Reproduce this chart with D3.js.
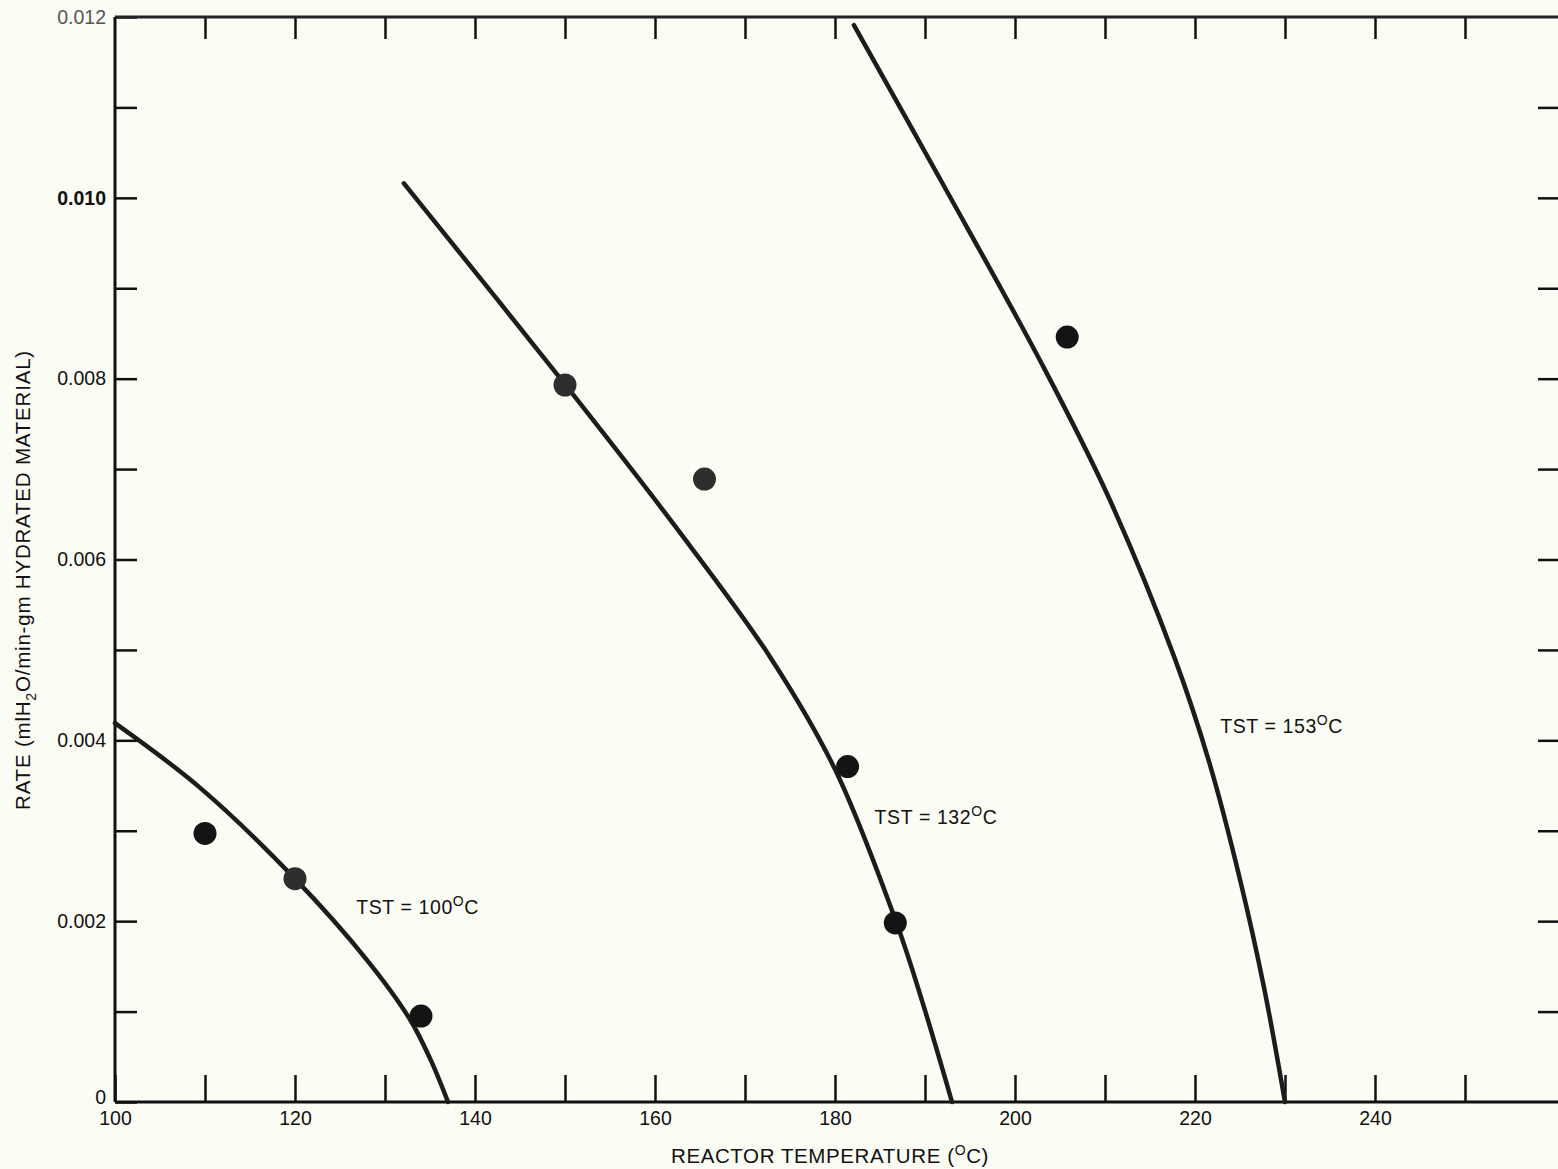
<!DOCTYPE html>
<html>
<head>
<meta charset="utf-8">
<script src="https://cdn.jsdelivr.net/npm/d3@7"></script>
<style>
  html, body { margin: 0; padding: 0; background: #fbfcf4; }
  svg { display: block; font-family: "Liberation Sans", Arial, sans-serif; }
  .axis path { display: none; }
  .axis line { stroke: #111; stroke-width: 2.5; }
</style>
</head>
<body>
<svg id="chart"></svg>
<script>
const W = 1558;
const H = 1169;

// 측정점 (반응기 온도, rate)
const pointsX = [110, 120, 134, 150, 165.5, 181.4, 186.7, 205.8];
const pointsY = [0.00297, 0.00247, 0.00095, 0.00793, 0.00689, 0.00371, 0.00198, 0.00846];

// 곡선
const tst100X = [100, 109.4, 119.8, 128.0, 132.8, 135.1, 137.0];
const tst100Y = [0.00419, 0.00348, 0.00249, 0.00157, 0.00091, 0.00046, 0];
const tst132X = [132.1, 149.9, 162.3, 172.8, 180.0, 186.8, 189.7, 193.0];
const tst132Y = [0.01016, 0.00795, 0.00636, 0.00492, 0.00368, 0.00199, 0.00111, 0];
const tst153X = [182.1, 192.0, 203.0, 210.3, 217.7, 221.6, 225.1, 227.7, 230.0];
const tst153Y = [0.01191, 0.01015, 0.00816, 0.00671, 0.00492, 0.00375, 0.00242, 0.00125, 0];

const curveNames = ["100", "132", "153"];
const labelX = [126.8, 184.4, 222.8];
const labelY = [0.00208, 0.00308, 0.00408];

const xTicks = d3.range(100, 260, 10);
const yTicks = d3.range(0, 0.0121, 0.001);

const x = d3.scaleLinear().domain([100, 260]).range([115, 1555]);
const y = d3.scaleLinear().domain([0, 0.012]).range([1102, 17]);

const svg = d3.select("#chart").attr("width", W).attr("height", H);
svg.append("rect").attr("width", W).attr("height", H).attr("fill", "#fbfcf4");

// 눈금
const fmtY = d => {
  if (Math.abs(d) < 1e-9) return "0";
  const k = Math.round(d * 1000);
  return k % 2 === 0 ? d3.format(".3f")(d) : "";
};

svg.append("g").attr("class", "axis")
  .attr("transform", `translate(0,${y(0)})`)
  .call(d3.axisBottom(x).tickValues(xTicks).tickSize(-27).tickPadding(6)
    .tickFormat(d => d % 20 === 0 ? d : ""))
  .selectAll("text")
  .attr("font-size", 19.5)
  .attr("fill", "#111")
  .attr("dy", "0.85em");

svg.append("g").attr("class", "axis")
  .attr("transform", `translate(0,${y(0.012)})`)
  .call(d3.axisTop(x).tickValues(xTicks.slice(1)).tickSize(-22).tickFormat(""));

svg.append("g").attr("class", "axis")
  .attr("transform", `translate(${x(100)},0)`)
  .call(d3.axisLeft(y).tickValues(yTicks).tickSize(-22).tickPadding(9).tickFormat(fmtY))
  .selectAll("text")
  .attr("font-size", 19.5)
  .attr("y", d => Math.abs(d) < 1e-9 ? -5 : 0)
  .attr("font-weight", d => Math.abs(d - 0.010) < 1e-9 ? "bold" : null)
  .attr("fill", d => Math.abs(d - 0.012) < 1e-9 ? "#555" : "#111");

svg.append("g").attr("class", "axis")
  .attr("transform", `translate(1558,0)`)
  .call(d3.axisRight(y).tickValues(yTicks.slice(1, 12)).tickSize(-20).tickFormat(""));

// 축 테두리
svg.append("line").attr("x1", x(100)).attr("x2", W).attr("y1", y(0)).attr("y2", y(0))
  .attr("stroke", "#111").attr("stroke-width", 3);
svg.append("line").attr("x1", x(100)).attr("x2", W).attr("y1", y(0.012)).attr("y2", y(0.012))
  .attr("stroke", "#222").attr("stroke-width", 3);
svg.append("line").attr("x1", x(100)).attr("x2", x(100)).attr("y1", y(0.012)).attr("y2", y(0))
  .attr("stroke", "#111").attr("stroke-width", 3);

// 곡선
const line = d3.line()
  .x(d => x(d[0]))
  .y(d => y(d[1]))
  .curve(d3.curveCatmullRom.alpha(0.5));

const curves = [
  d3.zip(tst100X, tst100Y),
  d3.zip(tst132X, tst132Y),
  d3.zip(tst153X, tst153Y)
];

svg.selectAll("path.curve")
  .data(curves)
  .enter()
  .append("path")
  .attr("class", "curve")
  .attr("d", line)
  .attr("fill", "none")
  .attr("stroke", "#1c1c1c")
  .attr("stroke-width", 4.5)
  .attr("stroke-linecap", "round");

// 데이터 점
svg.selectAll("circle.pt")
  .data(d3.zip(pointsX, pointsY))
  .enter()
  .append("circle")
  .attr("class", "pt")
  .attr("cx", d => x(d[0]))
  .attr("cy", d => y(d[1]))
  .attr("r", 11.5)
  .attr("fill", (d, i) => (i === 1 || i === 3 || i === 4) ? "#2e2e2e" : "#141414");

// TST 라벨
curveNames.forEach((name, i) => {
  const t = svg.append("text")
    .attr("x", x(labelX[i]))
    .attr("y", y(labelY[i]))
    .attr("font-size", 19.5)
    .attr("letter-spacing", 0.6)
    .attr("fill", "#111");
  t.append("tspan").text(`TST = ${name}`);
  t.append("tspan").attr("font-size", 14).attr("dy", -8).text("O");
  t.append("tspan").attr("dy", 8).text("C");
});

// 축 제목
const xt = svg.append("text")
  .attr("x", 830).attr("y", 1163)
  .attr("text-anchor", "middle")
  .attr("font-size", 20.5)
  .attr("letter-spacing", 0.6)
  .attr("fill", "#111");
xt.append("tspan").text("REACTOR TEMPERATURE (");
xt.append("tspan").attr("font-size", 14).attr("dy", -8).text("O");
xt.append("tspan").attr("dy", 8).text("C)");

const yt = svg.append("text")
  .attr("transform", "translate(30,580) rotate(-90)")
  .attr("text-anchor", "middle")
  .attr("font-size", 20.5)
  .attr("letter-spacing", 0.8)
  .attr("fill", "#111");
yt.append("tspan").text("RATE (mlH");
yt.append("tspan").attr("font-size", 14).attr("dy", 6).text("2");
yt.append("tspan").attr("dy", -6).text("O/min-gm HYDRATED MATERIAL)");
</script>
</body>
</html>
